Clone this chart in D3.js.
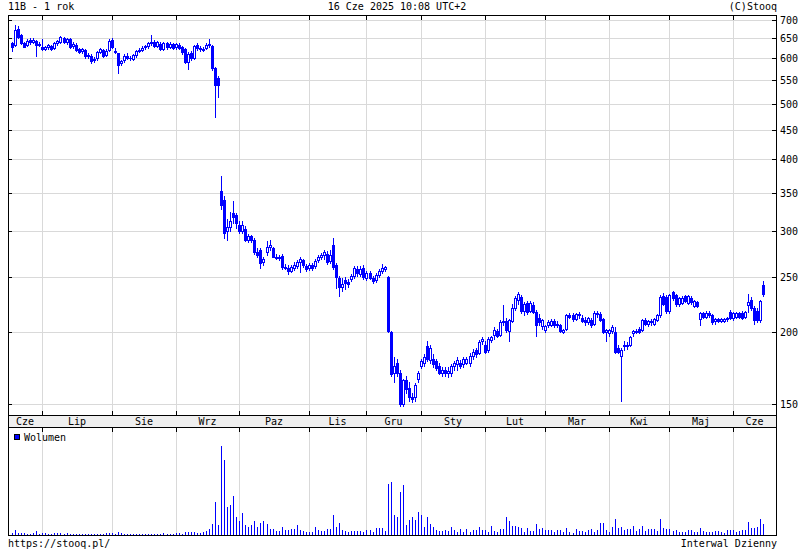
<!DOCTYPE html>
<html><head><meta charset="utf-8">
<script src="https://cdn.jsdelivr.net/npm/d3@7"></script>
<style>
body{margin:0;background:#fff}
svg{display:block}
text{font-family:"DejaVu Sans Mono",monospace;font-size:10px;fill:#000}
</style>
</head><body>
<svg id="c" width="800" height="550"></svg>
<script>
// ---- data (daily OHLC, 11B, 1 year) ----
const opens=[
638,632,676,659,638,632,645,641,643,636,
629,624,628,630,625,637,641,652,640,648,630,634,622,618,620,606,605,596,600,615,620,607,620,
646,615,612,588,595,606,602,598,607,618,621,627,630,637,641,630,636,624,637,628,635,
627,633,627,623,592,612,602,634,626,621,625,632,630,577,555,352,340,300,305,323,320,
308,300,303,290,294,290,276,278,265,276,281,280,271,269,272,260,259,256,259,261,265,267,261,
259,262,261,267,271,273,274,266,284,262,249,240,247,245,248,251,258,253,259,
249,254,249,247,252,256,258,250,200,170,177,170,150,165,160,154,154,166,
175,177,189,179,180,178,175,170,172,170,170,175,176,177,176,177,177,182,186,184,193,
190,186,194,198,201,198,208,209,201,209,220,228,230,218,225,218,223,217,212,205,
202,206,206,209,207,206,200,203,214,214,211,214,212,210,208,210,207,216,215,211,200,
199,201,200,188,182,189,190,190,199,201,203,202,210,207,209,207,210,214,231,230,
218,235,232,224,225,231,225,229,222,226,211,216,213,216,214,209,211,209,209,211,217,
212,213,216,216,213,223,228,220,218,210,242];
const highs=[
640,686,684,662,640,648,650,651,647,640,
648,631,636,634,640,646,657,655,651,652,640,637,626,626,624,612,610,603,618,625,624,622,648,
652,625,614,597,610,612,606,610,621,625,630,633,641,660,645,644,640,640,641,640,639,
639,637,631,626,615,617,634,638,630,628,637,648,634,580,558,375,345,315,324,338,323,
312,312,306,297,296,292,280,280,270,288,290,282,274,273,274,263,262,262,265,267,270,268,263,
264,264,268,273,275,278,277,278,292,264,251,249,250,248,253,261,261,261,262,
256,256,251,254,258,263,261,251,201,181,180,172,166,168,164,157,163,171,
180,183,193,190,183,180,177,174,174,174,176,178,181,179,181,181,184,187,188,194,196,
193,196,197,204,203,210,223,212,211,224,231,235,232,226,227,227,226,219,215,211,
206,210,211,211,209,207,203,215,216,216,216,217,214,213,213,212,218,218,217,212,203,
203,206,204,190,188,193,192,197,202,203,204,211,212,210,211,212,215,232,234,232,
233,236,233,230,231,232,232,231,228,227,217,217,218,218,215,212,212,212,212,213,219,
217,217,217,218,218,233,230,222,220,228,246];
const lows=[
619,630,650,635,627,630,636,637,605,630,
620,620,624,621,622,634,638,638,636,625,626,619,613,614,602,600,590,592,597,612,603,605,618,
625,612,566,585,592,598,596,595,604,615,618,623,626,632,627,627,620,621,624,625,623,
624,622,611,588,576,596,598,620,618,618,623,628,572,475,513,328,292,290,300,310,304,
298,298,288,287,287,274,270,259,262,273,278,270,268,267,258,258,253,255,257,259,255,260,256,
257,257,259,265,268,268,263,264,258,239,231,236,238,240,246,249,251,251,248,
247,248,244,245,250,254,256,200,168,164,168,149,149,157,152,151,152,164,
173,175,178,177,174,172,169,168,168,167,168,172,172,173,174,176,175,180,181,183,191,
184,185,192,195,196,197,206,200,193,208,219,224,216,214,215,217,216,197,206,203,
200,204,205,204,204,200,199,202,212,209,210,212,208,206,207,204,206,213,209,199,193,
197,199,184,184,152,186,187,189,197,199,199,201,206,205,206,206,209,213,223,216,
216,228,222,222,224,226,224,224,221,221,206,212,212,213,207,207,208,208,208,209,211,
210,212,212,211,212,217,219,207,208,208,231];
const closes=[
629,672,655,638,629,643,641,645,632,633,
623,628,632,624,637,643,654,641,648,628,636,621,616,622,605,607,594,599,615,622,606,618,644,
628,619,584,593,606,602,600,607,617,621,626,630,638,641,630,640,622,637,627,636,626,
635,626,615,592,610,600,630,625,622,623,632,636,577,540,540,333,298,305,312,318,310,
300,307,290,294,290,276,273,264,268,282,284,271,269,271,260,259,256,260,262,265,268,262,258,
262,259,266,271,273,276,265,273,260,250,240,243,244,243,251,259,254,258,250,
254,249,246,252,256,259,260,201,169,175,170,150,165,159,154,153,162,170,
178,181,180,188,176,173,170,172,170,171,175,177,179,175,180,180,182,185,183,192,195,
185,195,196,202,197,208,209,202,210,220,229,233,218,224,217,225,217,206,208,210,
205,208,209,206,206,201,202,214,213,211,215,215,209,208,212,206,216,215,210,200,202,
202,204,185,185,186,190,189,196,201,200,200,210,207,209,208,211,214,230,224,218,
232,229,224,229,229,227,231,226,227,222,216,213,216,214,208,211,209,211,211,212,212,
216,216,213,212,217,226,220,210,210,227,233];
const volumes=[
23,50,23,23,17,13,13,23,40,13,
20,15,13,13,20,15,20,13,15,13,13,13,13,13,13,13,13,13,13,13,13,20,15,
15,13,33,20,13,13,13,13,13,13,13,13,13,13,13,13,13,20,13,13,13,
20,20,13,27,33,33,33,20,20,33,40,57,113,323,100,880,750,280,300,390,180,
140,220,100,80,100,140,80,120,140,107,57,57,40,40,80,47,47,57,57,100,47,40,33,
33,33,80,47,40,40,57,57,200,80,120,47,40,33,40,40,40,40,33,
47,47,30,67,67,67,40,510,530,200,180,430,500,100,150,180,150,230,
200,80,180,107,80,47,40,40,47,40,80,47,33,57,33,57,33,47,47,80,47,
47,33,90,40,33,57,57,180,140,90,90,80,67,33,67,40,40,107,57,67,
53,53,47,33,47,53,33,67,33,23,57,40,40,33,47,57,33,53,120,120,47,
33,80,160,73,80,47,57,57,90,40,57,90,40,57,57,60,40,160,73,60,
57,40,47,33,33,33,47,47,33,33,73,40,33,33,33,40,40,33,23,47,47,
47,33,40,47,47,130,73,73,80,160,107];
const monthLabels=["Cze","Lip","Sie","Wrz","Paz","Lis","Gru","Sty","Lut","Mar","Kwi","Maj","Cze"];
const monthStarts=[0,10,33,54,75,98,117,135,156,176,197,217,238];
const yTicks=[150,200,250,300,350,400,450,500,550,600,650,700];
const titleText="11B - 1 rok", stampText="16 Cze 2025 10:08 UTC+2", copyText="(C)Stooq";
const sourceText="https://stooq.pl/", intervalText="Interwal Dzienny", volText="Wolumen";

// ---- layout ----
const svg=d3.select("#c");
const L=8,R=776,T=15,B=415,BB=427,VB=535;
const BLUE="#0000ff", GRID="#d9d9d9";
const n=closes.length;
const x=d3.scaleLinear().domain([0,n-1]).range([12,763.4]);
const y=d3.scaleLog().domain([143.5,714]).range([B,T]);
const vy=d3.scaleLinear().domain([0,d3.max(volumes)/0.82]).range([VB,BB]);
const px=i=>Math.round(x(i));
const boundaries=monthStarts.slice(1).map(px);

// band
svg.append("rect").attr("x",L).attr("y",B).attr("width",R-L).attr("height",BB-B).attr("fill","#efefef");

// gridlines main
const g=svg.append("g");
g.selectAll(".hg").data(yTicks).join("line")
  .attr("x1",L).attr("x2",R).attr("y1",d=>Math.round(y(d))+0.5).attr("y2",d=>Math.round(y(d))+0.5)
  .attr("stroke",GRID).attr("stroke-width",1);
g.selectAll(".vg").data(boundaries).join("line")
  .attr("x1",d=>d+0.5).attr("x2",d=>d+0.5).attr("y1",T).attr("y2",B).attr("stroke",GRID);
g.selectAll(".vg2").data(boundaries).join("line")
  .attr("x1",d=>d+0.5).attr("x2",d=>d+0.5).attr("y1",BB).attr("y2",VB).attr("stroke",GRID);

// candles
const idx=d3.range(n);
const cg=svg.append("g");
cg.selectAll(".wick").data(idx).join("line")
  .attr("x1",i=>px(i)+0.5).attr("x2",i=>px(i)+0.5)
  .attr("y1",i=>Math.round(y(highs[i]))).attr("y2",i=>Math.round(y(lows[i]))+1)
  .attr("stroke",BLUE).attr("stroke-width",1);
cg.selectAll(".body").data(idx).join("rect")
  .each(function(i){
    const yo=Math.round(y(opens[i])), yc=Math.round(y(closes[i]));
    const top=Math.min(yo,yc), h=Math.abs(yo-yc);
    const s=d3.select(this);
    if(closes[i]<opens[i]){
      s.attr("x",px(i)-1).attr("y",top).attr("width",3).attr("height",Math.max(1,h+1)).attr("fill",BLUE);
    } else {
      s.attr("x",px(i)-0.5).attr("y",top+0.5).attr("width",2).attr("height",Math.max(1,h))
       .attr("fill","#fff").attr("stroke",BLUE).attr("stroke-width",1);
    }
  });

// volume bars
svg.append("g").selectAll("line").data(idx).join("line")
  .attr("x1",i=>px(i)+0.5).attr("x2",i=>px(i)+0.5)
  .attr("y1",VB).attr("y2",i=>Math.round(vy(volumes[i])))
  .attr("stroke",BLUE).attr("stroke-width",1);

// frames
const fr=svg.append("g").attr("fill","none").attr("stroke","#000").attr("stroke-width",1);
fr.append("rect").attr("x",L+0.5).attr("y",T+0.5).attr("width",R-L).attr("height",B-T);
fr.append("rect").attr("x",L+0.5).attr("y",B+0.5).attr("width",R-L).attr("height",BB-B);
fr.append("rect").attr("x",L+0.5).attr("y",BB+0.5).attr("width",R-L).attr("height",VB-BB);

// ticks
const tk=svg.append("g").attr("stroke","#000").attr("stroke-width",1);
yTicks.forEach(t=>{
  const yy=Math.round(y(t))+0.5;
  tk.append("line").attr("x1",L).attr("x2",L+4).attr("y1",yy).attr("y2",yy);
  tk.append("line").attr("x1",R-4).attr("x2",R+1).attr("y1",yy).attr("y2",yy);
});
boundaries.forEach(b=>{
  const xx=b+0.5;
  tk.append("line").attr("x1",xx).attr("x2",xx).attr("y1",T).attr("y2",T+5);
  tk.append("line").attr("x1",xx).attr("x2",xx).attr("y1",B-4).attr("y2",B);
  tk.append("line").attr("x1",xx).attr("x2",xx).attr("y1",BB).attr("y2",BB+5);
});

// y labels
svg.append("g").selectAll("text").data(yTicks).join("text")
  .attr("x",780).attr("y",d=>Math.round(y(d))+4).text(d=>d);

// month labels
const edges=[L,...boundaries,R];
svg.append("g").selectAll("text").data(monthLabels).join("text")
  .attr("x",(d,k)=>(edges[k]+edges[k+1])/2).attr("y",425).attr("text-anchor","middle").text(d=>d);

// titles
svg.append("text").attr("x",8).attr("y",10).text(titleText);
svg.append("text").attr("x",397).attr("y",10).attr("text-anchor","middle").text(stampText);
svg.append("text").attr("x",777).attr("y",10).attr("text-anchor","end").text(copyText);
svg.append("text").attr("x",8).attr("y",547).text(sourceText);
svg.append("text").attr("x",777).attr("y",547).attr("text-anchor","end").text(intervalText);

// legend
svg.append("rect").attr("x",14.5).attr("y",434.5).attr("width",5).attr("height",5).attr("fill",BLUE).attr("stroke","#000");
svg.append("text").attr("x",24).attr("y",441).text(volText);
</script>
</body></html>
